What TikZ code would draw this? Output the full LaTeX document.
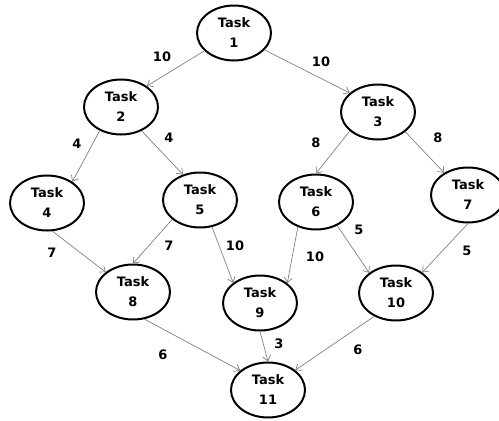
\documentclass[tikz,border=0pt]{standalone}
\usepackage{fontspec}
\setmainfont{DejaVu Sans}
\usetikzlibrary{shapes.geometric,arrows.meta}
\begin{document}
\begin{tikzpicture}[x=1pt,y=-1pt,
  task/.style={ellipse,draw=black,line width=2pt,minimum width=74pt,minimum height=55pt,inner sep=0pt,align=center,font=\bfseries\fontsize{13}{20}\selectfont},
  edge/.style={draw=black!50,line width=0.7pt,-{Straight Barb[length=5pt,width=8pt]}},
  wt/.style={font=\bfseries\fontsize{13}{15}\selectfont}]
\useasboundingbox (0,0) rectangle (499,421);
\node[task] (t1) at (234,33) {Task\\1};
\node[task] (t2) at (121,107) {Task\\2};
\node[task] (t3) at (378,112) {Task\\3};
\node[task] (t4) at (47,203) {Task\\4};
\node[task] (t5) at (200,200) {Task\\5};
\node[task] (t6) at (316,202) {Task\\6};
\node[task] (t7) at (468,195) {Task\\7};
\node[task] (t8) at (133,292) {Task\\8};
\node[task] (t9) at (260,303) {Task\\9};
\node[task] (t10) at (396,293) {Task\\10};
\node[task] (t11) at (268,390) {Task\\11};
\draw[edge] (t1.211) -- (t2.39);
\draw[edge] (t1.331) -- (t3.146);
\draw[edge] (t2.228) -- (t4.40);
\draw[edge] (t2.311) -- (t5.124);
\draw[edge] (t3.214) -- (t6.north);
\draw[edge] (t3.324) -- (t7.137);
\draw[edge] (t4.281) -- (t8.144);
\draw[edge] (t5.215) -- (t8.north);
\draw[edge] (t5.294) -- (t9.143);
\draw[edge] (t6.234) -- (t9.36);
\draw[edge] (t6.312) -- (t10.143);
\draw[edge] (t7.south) -- (t10.38);
\draw[edge] (t8.293) -- (t11.145);
\draw[edge] (t9.south) -- (t11.north);
\draw[edge] (t10.227) -- (t11.36);
\node[wt] (w12) at (162,57) {10};
\node[wt] (w13) at (321,62) {10};
\node[wt] (w24) at (77,144) {4};
\node[wt] (w25) at (169,138) {4};
\node[wt] (w36) at (316,143) {8};
\node[wt] (w37) at (438,138) {8};
\node[wt] (w48) at (52,253) {7};
\node[wt] (w58) at (169,246) {7};
\node[wt] (w59) at (235,246) {10};
\node[wt] (w69) at (315,257) {10};
\node[wt] (w610) at (359,230) {5};
\node[wt] (w710) at (467,251) {5};
\node[wt] (w811) at (163,355) {6};
\node[wt] (w911) at (279,344) {3};
\node[wt] (w1011) at (358,350) {6};
\end{tikzpicture}
\end{document}
